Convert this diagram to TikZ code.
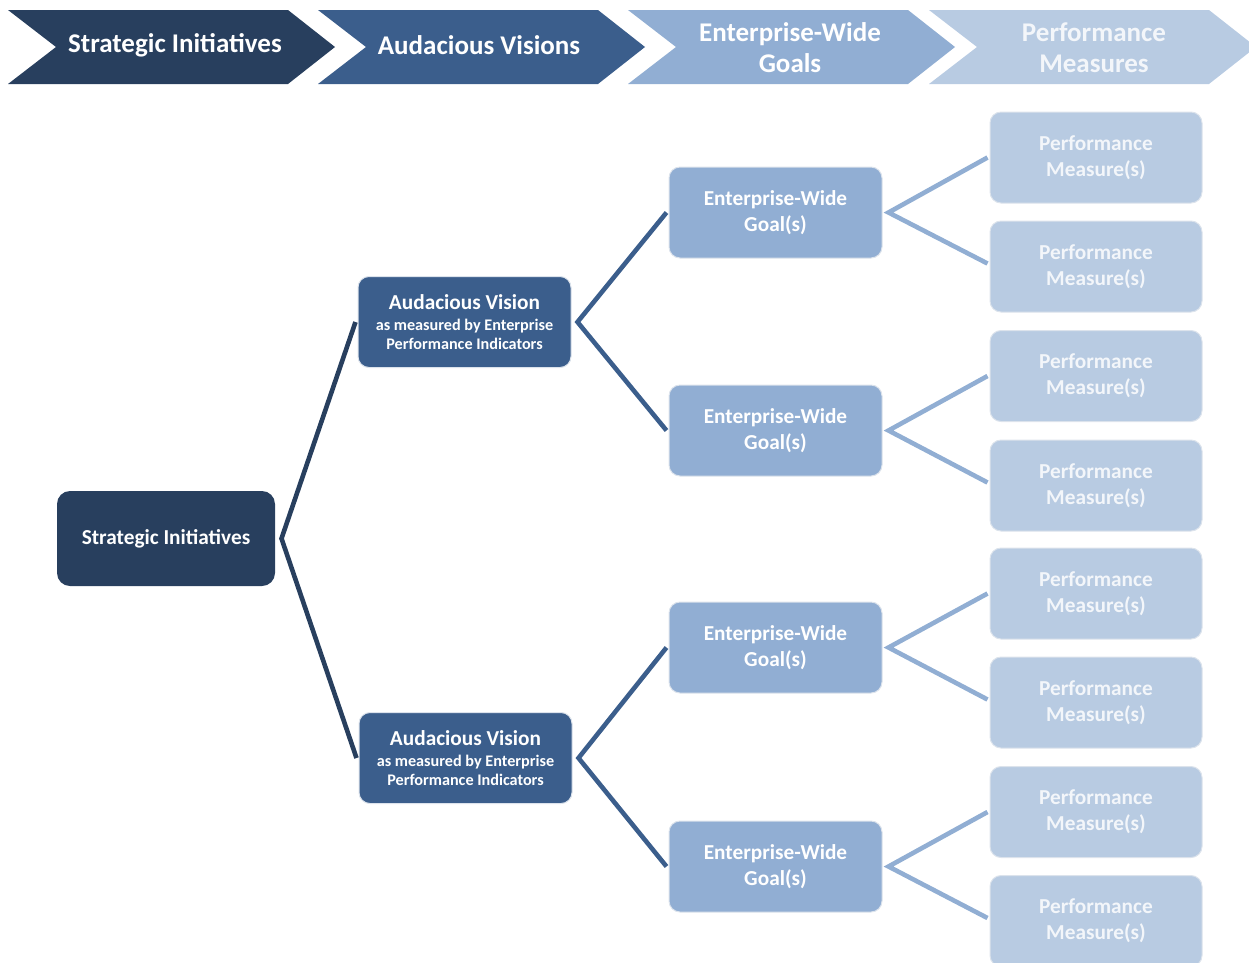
\documentclass[tikz,border=0pt]{standalone}
\usepackage{fontspec}
\setmainfont{Carlito}
\definecolor{cnavy}{HTML}{283F5E}
\definecolor{cmid}{HTML}{3B5E8C}
\definecolor{clight}{HTML}{91AED3}
\definecolor{cpale}{HTML}{B8CBE2}
\definecolor{ctxtpale}{HTML}{F3F6FA}
\definecolor{cedge}{HTML}{DCE3EC}
\begin{document}
\begin{tikzpicture}[x=1pt,y=-1pt,
  box/.style={rectangle, rounded corners=11pt, minimum width=213pt, minimum height=91pt,
    align=center, inner sep=0pt, text=white, draw=cedge, line width=1pt,
    font=\bfseries\fontsize{21.3}{26}\selectfont},
  sibox/.style={box, fill=cnavy, draw=none, minimum width=218pt, minimum height=95pt, rounded corners=13pt},
  avbox/.style={box, fill=cmid},
  ewbox/.style={box, fill=clight},
  pmbox/.style={box, fill=cpale, text=ctxtpale, minimum width=212pt},
  htext/.style={align=center, text=white, inner sep=0pt, font=\bfseries\fontsize{27}{31}\selectfont},
  conn/.style={line width=4.6pt, line join=miter},
]
\useasboundingbox (0,0) rectangle (1249,962);
\clip (0,0) rectangle (1249,962);
% header chevrons
\fill[cnavy] (8,10) -- (288,10) -- (335,47) -- (288,84) -- (8,84) -- (56,47) -- cycle;
\fill[cmid] (318,10) -- (598,10) -- (645,47) -- (598,84) -- (318,84) -- (366,47) -- cycle;
\fill[clight] (628,10) -- (908,10) -- (955,47) -- (908,84) -- (628,84) -- (676,47) -- cycle;
\fill[cpale] (929,10) -- (1209,10) -- (1256,47) -- (1209,84) -- (929,84) -- (977,47) -- cycle;
\node[htext] (h1) at (175,45) {Strategic Initiatives};
\node[htext] (h2) at (479,45) {Audacious Visions};
\node[htext] (h3) at (790,48) {Enterprise-Wide\\Goals};
\node[htext, text=ctxtpale] (h4) at (1094,48) {Performance\\Measures};
% nodes
\node[sibox] (si) at (166,538.5) {Strategic Initiatives};
\node[avbox] (av1) at (464.5,322) {Audacious Vision\\[-5pt]{\fontsize{16.2}{19}\selectfont as measured by Enterprise}\\[-7pt]{\fontsize{16.2}{19}\selectfont Performance Indicators}};
\node[avbox] (av2) at (465.5,758) {Audacious Vision\\[-5pt]{\fontsize{16.2}{19}\selectfont as measured by Enterprise}\\[-7pt]{\fontsize{16.2}{19}\selectfont Performance Indicators}};
\node[ewbox] (ew1) at (775.5,212.5) {Enterprise-Wide\\Goal(s)};
\node[ewbox] (ew2) at (775.5,430.5) {Enterprise-Wide\\Goal(s)};
\node[ewbox] (ew3) at (775.5,647.5) {Enterprise-Wide\\Goal(s)};
\node[ewbox] (ew4) at (775.5,866.5) {Enterprise-Wide\\Goal(s)};
\node[pmbox] (pm1) at (1096,157.5) {Performance\\Measure(s)};
\node[pmbox] (pm2) at (1096,266.5) {Performance\\Measure(s)};
\node[pmbox] (pm3) at (1096,376) {Performance\\Measure(s)};
\node[pmbox] (pm4) at (1096,485.5) {Performance\\Measure(s)};
\node[pmbox] (pm5) at (1096,593.5) {Performance\\Measure(s)};
\node[pmbox] (pm6) at (1096,702.5) {Performance\\Measure(s)};
\node[pmbox] (pm7) at (1096,812) {Performance\\Measure(s)};
\node[pmbox] (pm8) at (1096,921) {Performance\\Measure(s)};
% connector joints
\coordinate (jsi) at ([xshift=6pt]si.east);
\coordinate (jav1) at ([xshift=6pt]av1.east);
\coordinate (jav2) at ([xshift=6pt]av2.east);
\coordinate (jew1) at ([xshift=6pt]ew1.east);
\coordinate (jew2) at ([xshift=6pt]ew2.east);
\coordinate (jew3) at ([xshift=6pt]ew3.east);
\coordinate (jew4) at ([xshift=6pt]ew4.east);
\draw[conn, cnavy] ([xshift=-2pt]av1.west) -- (jsi) -- ([xshift=-2pt]av2.west);
\draw[conn, cmid] ([xshift=-2pt]ew1.west) -- (jav1) -- ([xshift=-2pt]ew2.west);
\draw[conn, cmid] ([xshift=-2pt]ew3.west) -- (jav2) -- ([xshift=-2pt]ew4.west);
\draw[conn, clight] ([xshift=-2pt]pm1.west) -- (jew1) -- ([xshift=-2pt,yshift=3pt]pm2.west);
\draw[conn, clight] ([xshift=-2pt]pm3.west) -- (jew2) -- ([xshift=-2pt,yshift=3pt]pm4.west);
\draw[conn, clight] ([xshift=-2pt]pm5.west) -- (jew3) -- ([xshift=-2pt,yshift=3pt]pm6.west);
\draw[conn, clight] ([xshift=-2pt]pm7.west) -- (jew4) -- ([xshift=-2pt,yshift=3pt]pm8.west);
\end{tikzpicture}
\end{document}
